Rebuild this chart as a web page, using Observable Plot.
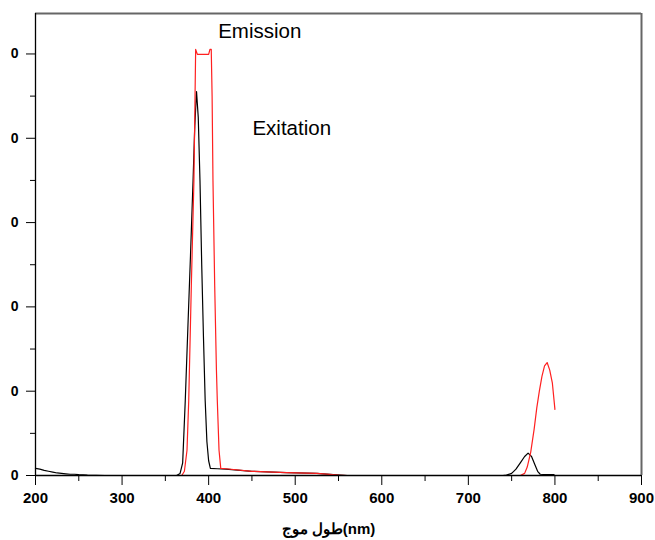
<!DOCTYPE html>
<html>
<head>
<meta charset="utf-8">
<script src="https://cdn.jsdelivr.net/npm/d3@7"></script>
<script src="https://cdn.jsdelivr.net/npm/@observablehq/plot@0.6"></script>
<style>
  body { margin: 0; background: white; }
</style>
</head>
<body>
<div id="chart"></div>
<script>
// Excitation (black) spectrum
const excitationNm  = [200,205,210,215,220,225,230,235,240,245,250,260,280,363,367,370,373,376,379,382,384,386,388,390,392,394,396,398,400,402,410,420,450,490,525,552,560,740,744,750,755,760,765,769,773,777,780,783,790,799];
const excitationVal = [17,15,12,10,8,6,5,4,3,3,2,1,0,0,5,30,178,350,520,700,830,911,850,700,500,330,178,80,35,17,16,15,10,7,5,1,0,0,1,5,15,30,45,53,45,25,10,3,2,2];
// Emission (red) spectrum
const emissionNm  = [200,369,372,375,377,380,383,385,387,400,401.5,403,404,405,407,409,410,412,414,420,450,490,525,550,560,760,765,768,772,776,779,782,785,788,791,794,797,800];
const emissionVal = [0,0,10,60,178,450,700,1011,999,999,1011,1011,900,700,450,250,178,60,17,16,10,7,5,1,0,0,5,20,55,110,160,200,235,260,268,250,220,157];

const xMajorTicks = [200,300,400,500,600,700,800,900];
const xMinorTicks = [250,350,450,550,650,750,850];
const yMajorTicks = [0,200,400,600,800,1000];
const yMinorTicks = [100,300,500,700,900];
const yTickLabels = ["0","0","0","0","0","0"];
const annotations = ["Emission", "Exitation"];
const xTitle = "طول موج(nm)";

const excitation = excitationNm.map((x, i) => ({x, y: excitationVal[i]}));
const emission = emissionNm.map((x, i) => ({x, y: emissionVal[i]}));

const yTop = 1096;

const chart = Plot.plot({
  width: 655,
  height: 540,
  marginLeft: 35,
  marginRight: 14,
  marginTop: 13,
  marginBottom: 65,
  style: {fontFamily: "'Liberation Sans', Arial, sans-serif", background: "white", color: "black"},
  x: {domain: [200, 900], label: null},
  y: {domain: [0, yTop], label: null},
  marks: [
    Plot.axisX({ticks: xMajorTicks, tickSize: 10, tickPadding: 7, fontSize: 15, fontWeight: "bold", label: null}),
    Plot.axisX({ticks: xMinorTicks, tickSize: 6, tickFormat: () => "", label: null}),
    Plot.axisY({ticks: yMajorTicks, tickSize: 9, tickPadding: 8, fontSize: 14, fontWeight: "bold", tickFormat: (d, i) => yTickLabels[i], label: null}),
    Plot.axisY({ticks: yMinorTicks, tickSize: 5, tickFormat: () => "", label: null}),
    Plot.ruleY([yTop], {stroke: "#666", strokeWidth: 2}),
    Plot.ruleX([900], {stroke: "#666", strokeWidth: 2}),
    Plot.line(excitation, {x: "x", y: "y", stroke: "black", strokeWidth: 1.2}),
    Plot.line(emission, {x: "x", y: "y", stroke: "#ff2020", strokeWidth: 1.2}),
    Plot.ruleX([200], {stroke: "black", strokeWidth: 1.3}),
    Plot.ruleY([0], {stroke: "black", strokeWidth: 1.3}),
    Plot.text([annotations[0]], {x: 459, y: 1053, text: d => d, fontSize: 20.5, fill: "black"}),
    Plot.text([annotations[1]], {x: 496, y: 824, text: d => d, fontSize: 20.5, fill: "black"}),
    Plot.text([xTitle], {frameAnchor: "bottom", dx: -10, dy: 58, text: d => d, fontSize: 15, fontWeight: "bold", fill: "black"})
  ]
});
document.getElementById("chart").appendChild(chart);
</script>
</body>
</html>
